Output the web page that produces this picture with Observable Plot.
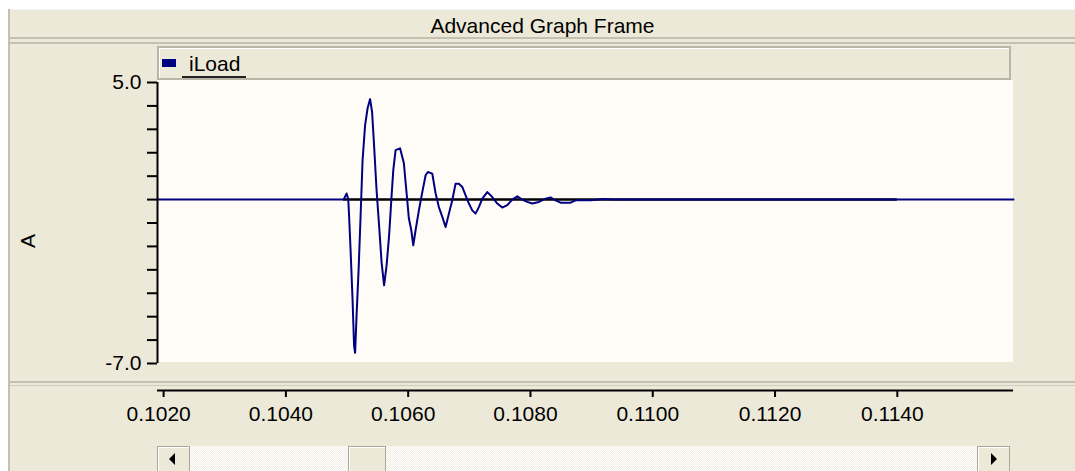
<!DOCTYPE html>
<html>
<head>
<meta charset="utf-8">
<script src="https://cdn.jsdelivr.net/npm/d3@7"></script>
<script src="https://cdn.jsdelivr.net/npm/@observablehq/plot@0.6"></script>
<style>
html, body { margin: 0; padding: 0; background: #fff; }
body { width: 1075px; height: 471px; position: relative; overflow: hidden; font-family: "Liberation Sans", Arial, sans-serif; color: #000; }
.abs { position: absolute; box-sizing: border-box; }
#base { left: 8px; top: 9px; width: 1067px; height: 462px; background: #ECE9D8; border-left: 2px solid #C4C1B3; }
#title { left: 10px; top: 9px; width: 1065px; height: 30px; border-top: 1px solid #F6F5EF; border-bottom: 2px solid #C4C1B3; text-align: center; font-size: 21px; line-height: 31px; }
#panelTop { left: 10px; top: 42px; width: 1065px; height: 2px; background: #C4C1B3; }
#plotbg { left: 157px; top: 80px; width: 856px; height: 282px; background: #FFFCF7; }
#legend { left: 157px; top: 46px; width: 854px; height: 34px; background: #ECE9D8; border: 2px solid #B9B6A8; box-shadow: inset 1px 1px 0 #fff; }
#swatch { left: 162px; top: 59px; width: 14px; height: 8px; background: #000080; }
#lname { left: 189px; top: 52px; font-size: 21px; line-height: 24px; }
#uline { left: 182px; top: 76px; width: 64px; height: 2px; background: #222; }
#botLine1 { left: 10px; top: 381px; width: 1065px; height: 2px; background: #C4C1B3; }
#botLine2 { left: 10px; top: 385px; width: 1065px; height: 1px; background: #D0CDBF; }
#track { left: 190px; top: 446px; width: 787px; height: 26px; background: repeating-conic-gradient(#EFEDE4 0 25%, #FFFFFF 0 50%) 0 0 / 2px 2px; }
.btn { top: 446px; height: 27px; background: #ECE9D8; border: 1px solid #ACA899; box-shadow: inset 1px 1px 0 #fff; }
#lbtn { left: 157px; width: 33px; }
#thumb { left: 348px; width: 38px; }
#rbtn { left: 977px; width: 33px; }
#larrow { left: 169px; top: 453px; width: 0; height: 0; border-top: 6px solid transparent; border-bottom: 6px solid transparent; border-right: 6px solid #000; }
#rarrow { left: 991px; top: 453px; width: 0; height: 0; border-top: 6px solid transparent; border-bottom: 6px solid transparent; border-left: 6px solid #000; }
#plot1 { left: 0; top: 0; }
#plot2 { left: 0; top: 360px; }
</style>
</head>
<body>
<div class="abs" id="base"></div>
<div class="abs" id="title">Advanced Graph Frame</div>
<div class="abs" id="panelTop"></div>
<div class="abs" id="plotbg"></div>
<div class="abs" id="legend"></div>
<div class="abs" id="swatch"></div>
<div class="abs" id="lname">iLoad</div>
<div class="abs" id="uline"></div>
<div class="abs" id="botLine1"></div>
<div class="abs" id="botLine2"></div>
<div class="abs" id="track"></div>
<div class="abs btn" id="lbtn"></div>
<div class="abs btn" id="thumb"></div>
<div class="abs btn" id="rbtn"></div>
<div class="abs" id="larrow"></div>
<div class="abs" id="rarrow"></div>
<div class="abs" id="plot1"></div>
<div class="abs" id="plot2"></div>
<script>
// ---- data ----
const seriesName = "iLoad";
const yLabel = "A";
const time = [0.1019, 0.104944, 0.104993, 0.105020, 0.105033, 0.105058, 0.105091, 0.105115, 0.105132, 0.105156,
  0.105189, 0.105222, 0.105254, 0.105295, 0.105336, 0.105377, 0.105410, 0.105442, 0.105483, 0.105524,
  0.105565, 0.105606, 0.105647, 0.105688, 0.105729, 0.105756, 0.105794, 0.105867, 0.105930, 0.105957,
  0.105985, 0.106011, 0.106051, 0.106083, 0.106121, 0.106175, 0.106231, 0.106285, 0.106322, 0.106394,
  0.106448, 0.106502, 0.106558, 0.106612, 0.106666, 0.106721, 0.106775, 0.106829, 0.106885, 0.106939,
  0.106993, 0.107048, 0.107102, 0.107156, 0.107212, 0.107294, 0.107375, 0.107457, 0.107539, 0.107621,
  0.107702, 0.107784, 0.107866, 0.107948, 0.108029, 0.108137, 0.108247, 0.108329, 0.108410, 0.108492,
  0.108656, 0.108738, 0.108983, 0.109195, 0.109343, 0.1159];
const iLoad = [0, 0, 0.26, 0.01, -0.67, -2.17, -4.33, -6.25, -6.54, -4.94,
  -3.0, -0.67, 1.68, 3.17, 3.9, 4.29, 3.73, 2.32, 0.4, -1.1,
  -2.68, -3.66, -2.81, -1.53, 0.18, 1.25, 2.11, 2.19, 1.55, 0.75,
  -0.03, -0.8, -1.31, -1.95, -1.31, -0.46, 0.32, 1.04, 1.18, 1.11,
  0.27, -0.32, -0.74, -1.17, -0.6, -0.03, 0.68, 0.68, 0.54, 0.18,
  -0.17, -0.46, -0.6, -0.32, 0.04, 0.32, 0.11, -0.17, -0.34, -0.24,
  0, 0.14, 0, -0.1, -0.17, -0.1, 0.04, 0.09, -0.03, -0.13,
  -0.13, -0.03, -0.03, 0.03, 0, 0];
const zeroTraceSpan = [0.104944, 0.1140];
const xDomain = [0.1019, 0.1159];
const yDomain = [-7, 5];
const xTicks = [0.1020, 0.1040, 0.1060, 0.1080, 0.1100, 0.1120, 0.1140];
const yTicks = [-7, -6, -5, -4, -3, -2, -1, 0, 1, 2, 3, 4, 5];
const yTickLabels = [5, -7];

const rows = time.map((t, i) => ({t, v: iLoad[i]}));
const font = {background: "transparent", fontFamily: "'Liberation Sans', Arial, sans-serif", fontSize: "21px", color: "#000", overflow: "visible"};

const p1 = Plot.plot({
  width: 1075, height: 380,
  marginLeft: 157, marginRight: 62, marginTop: 82, marginBottom: 17,
  x: {domain: xDomain, axis: null},
  y: {domain: yDomain, axis: null},
  style: font,
  marks: [
    Plot.ruleY([{y: 0, x1: zeroTraceSpan[0], x2: zeroTraceSpan[1]}], {y: "y", x1: "x1", x2: "x2", stroke: "#000", strokeWidth: 2.5}),
    Plot.line(rows, {x: "t", y: "v", stroke: "#000080", strokeWidth: 2}),
    Plot.ruleX([xDomain[0]], {stroke: "#000", strokeWidth: 2}),
    Plot.axisY({ticks: yTicks, tickSize: 10, tickPadding: 6, strokeWidth: 2, fontSize: 21,
      tickFormat: d => yTickLabels.includes(d) ? d.toFixed(1) : "", label: null}),
    Plot.text([yLabel], {text: d => d, frameAnchor: "left", dx: -129, dy: 25, rotate: -90, fontSize: 21})
  ]
});
document.getElementById("plot1").appendChild(p1);

const p2 = Plot.plot({
  width: 1075, height: 111,
  marginLeft: 157, marginRight: 62, marginTop: 0, marginBottom: 81,
  x: {domain: xDomain, axis: null},
  y: {domain: [0, 1], axis: null},
  style: font,
  marks: [
    Plot.ruleY([0], {stroke: "#000", strokeWidth: 2}),
    Plot.axisX({ticks: xTicks, tickFormat: d3.format(".4f"), tickSize: 7, tickPadding: 9, strokeWidth: 2, fontSize: 21, label: null}),
  ]
});
// shift tick labels slightly left of their ticks, as in the reference
p2.querySelectorAll("[aria-label='x-axis tick label']").forEach(g => g.setAttribute("transform", (g.getAttribute("transform") || "") + " translate(-5,0)"));
document.getElementById("plot2").appendChild(p2);
</script>
</body>
</html>
